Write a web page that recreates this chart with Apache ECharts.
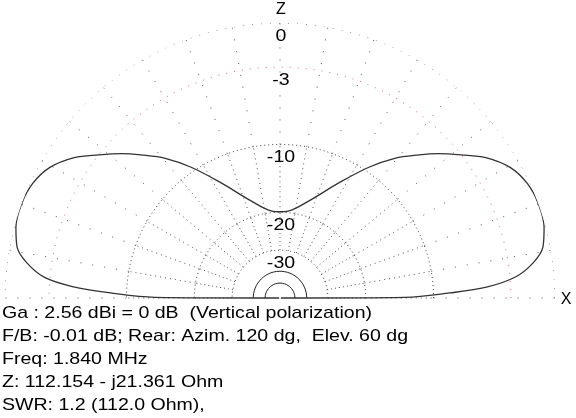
<!DOCTYPE html>
<html><head><meta charset="utf-8">
<script src="https://cdn.jsdelivr.net/npm/echarts@6/dist/echarts.min.js"></script>
<style>html,body{margin:0;padding:0;background:#fff}#c{width:576px;height:418px}</style>
</head><body><div id="c"></div>
<script>
// Elevation pattern (angle measured from +X axis, counter-clockwise), gain in dB relative to max
const patternAngleDeg = [0, 0.3, 1.7, 3.0, 5.1, 7.9, 11, 15, 20, 24.8, 29.5, 34.3, 38.3, 42.4, 45.8, 50.6, 55.8, 62.6, 73, 84.7, 90,
  95.3, 107, 117.4, 124.2, 129.4, 134.2, 137.6, 141.7, 145.7, 150.5, 155.2, 160, 165, 169, 172.1, 175, 176.9, 178.3, 179.7, 180];
const patternDb = [-99, -13.5, -8.3, -4.9, -2.6, -1.26, -0.45, -0.1, 0, -0.15, -0.65, -1.7, -3.0, -4.3, -5.5, -7.2, -9.5, -12.8, -17.0, -19.7, -19.9,
  -19.7, -17.0, -12.8, -9.5, -7.2, -5.5, -4.3, -3.0, -1.7, -0.65, -0.15, 0, -0.1, -0.45, -1.26, -2.6, -4.9, -8.3, -13.5, -99];

const dottedRingsDb = [0, -3, -10, -20, -30];
const ringLabels = ['0', '-3', '-10', '-20', '-30'];
const solidRingsDb = [-40, -50];
const spokeAnglesDeg = [0, 10, 20, 30, 40, 50, 60, 70, 80, 90, 100, 110, 120, 130, 140, 150, 160, 170, 180];
const infoLines = [
  'Ga : 2.56 dBi = 0 dB  (Vertical polarization)',
  'F/B: -0.01 dB; Rear: Azim. 120 dg,  Elev. 60 dg',
  'Freq: 1.840 MHz',
  'Z: 112.154 - j21.361 Ohm',
  'SWR: 1.2 (112.0 Ohm),'
];

// ARRL log-periodic scale: radius factor 0.89 per 2 dB
function rad(db) { return Math.pow(0.89, -db / 2); }

const series = [];
const ringStyles = {
  '0': {color: '#444', type: [1, 8]},
  '-3': {color: '#c87070', type: [1, 7]},
  '-10': {color: '#444', type: [1, 3]},
  '-20': {color: '#444', type: [1, 3]},
  '-30': {color: '#444', type: [1, 3]}
};
function arc(db) {
  const d = [];
  for (let a = 0; a <= 180; a += 1) d.push([rad(db), a]);
  return d;
}
dottedRingsDb.forEach(db => {
  const s = ringStyles[String(db)];
  series.push({type: 'line', coordinateSystem: 'polar', data: arc(db), showSymbol: false, silent: true,
    lineStyle: {width: 1, color: s.color, type: s.type}});
});
solidRingsDb.forEach(db => {
  series.push({type: 'line', coordinateSystem: 'polar', data: arc(db), showSymbol: false, silent: true,
    lineStyle: {width: 1, color: '#222'}});
});
const spokeSegs = [[-30, -20, [1, 3]], [-20, -10, [1, 4]], [-10, 0, [1, 11]]];
spokeAnglesDeg.forEach(a => {
  spokeSegs.forEach(seg => {
    series.push({type: 'line', coordinateSystem: 'polar', data: [[rad(seg[0]), a], [rad(seg[1]), a]], showSymbol: false, silent: true,
      lineStyle: {width: 1, color: '#555', type: seg[2]}});
  });
});
const patternIndex = series.length;
series.push({type: 'line', coordinateSystem: 'polar', data: patternAngleDeg.map((a, i) => [rad(patternDb[i]), a]),
  showSymbol: false, silent: true, smooth: 0.35, lineStyle: {width: 1.3, color: '#333'}});

const chart = echarts.init(document.getElementById('c'), null, {renderer: 'canvas'});
chart.setOption({
  animation: false,
  backgroundColor: '#fff',
  polar: {center: [280, 298], radius: 275},
  angleAxis: {type: 'value', min: 0, max: 360, startAngle: 0, clockwise: false, show: false},
  radiusAxis: {type: 'value', min: 0, max: 1, show: false},
  series: series
});

const FONT = '17px "Liberation Sans"';
const graphic = [
  {type: 'text', x: 281, y: 10, style: {text: 'Z', font: '16px "Liberation Sans"', fill: '#000', textAlign: 'center', textVerticalAlign: 'middle'}},
  {type: 'text', x: 566, y: 300, style: {text: 'X', font: '16px "Liberation Sans"', fill: '#000', textAlign: 'center', textVerticalAlign: 'middle'}}
];
dottedRingsDb.forEach((db, i) => {
  const p = chart.convertToPixel({seriesIndex: patternIndex}, [rad(db), 90]);
  graphic.push({type: 'text', x: p[0] + 1, y: p[1] + 13, scaleX: 1.15,
    style: {text: ringLabels[i], font: FONT, fill: '#000', textAlign: 'center', textVerticalAlign: 'middle'}});
});
infoLines.forEach((t, i) => {
  graphic.push({type: 'text', x: 2, y: 313 + i * 23, scaleX: 1.15,
    style: {text: t, font: FONT, fill: '#000', textAlign: 'left', textVerticalAlign: 'middle'}});
});
chart.setOption({graphic: graphic});
</script></body></html>
